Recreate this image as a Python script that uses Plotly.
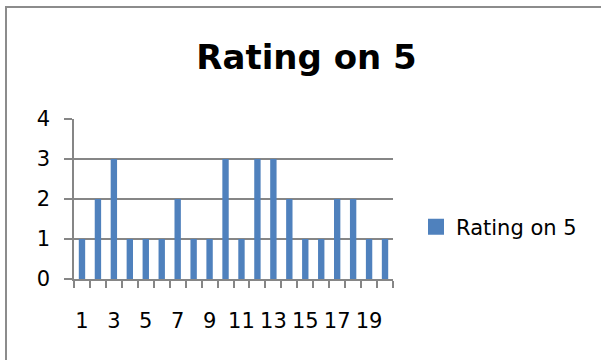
import plotly.graph_objects as go

# Respondent numbers and their rating (out of 5)
respondents = list(range(1, 21))
ratings = [1, 2, 3, 1, 1, 1, 2, 1, 1, 3, 1, 3, 3, 2, 1, 1, 2, 2, 1, 1]

x_tick_vals = [1, 3, 5, 7, 9, 11, 13, 15, 17, 19]
x_tick_text = [str(v) for v in x_tick_vals]
y_tick_vals = [0, 1, 2, 3, 4]

series_name = "Rating on 5"
bar_color = "#4F81BD"
grid_color = "#868686"
font_family = "DejaVu Sans"

W, H = 601, 360
L, R, T, B = 74, 208, 119, 81
plot_w = W - L - R
plot_h = H - T - B


def px_x(px):
    return (px - L) / plot_w


def px_y(py):
    return (H - B - py) / plot_h


fig = go.Figure()
fig.add_trace(go.Bar(
    x=respondents,
    y=ratings,
    name=series_name,
    marker=dict(color=bar_color, line=dict(width=0)),
    showlegend=False,
    legendgroup="rating",
))
# legend key: a larger square swatch for the series
fig.add_trace(go.Scatter(
    x=[None],
    y=[None],
    mode="markers",
    name=series_name,
    marker=dict(symbol="square", size=16, color=bar_color, line=dict(width=0)),
    legendgroup="rating",
    showlegend=True,
))

fig.update_layout(
    width=W,
    height=H,
    margin=dict(l=L, r=R, t=T, b=B),
    paper_bgcolor="white",
    plot_bgcolor="white",
    bargap=0.6,
    font=dict(family=font_family, size=21, color="#000000"),
    title=dict(
        text="<b>" + series_name + "</b>",
        font=dict(family=font_family, size=34, color="#000000"),
        xref="paper",
        x=px_x(306.5),
        xanchor="center",
        yref="container",
        y=1 - 57 / H,
        yanchor="middle",
    ),
    legend=dict(
        x=px_x(416),
        y=px_y(227),
        xanchor="left",
        yanchor="middle",
        font=dict(family=font_family, size=21, color="#000000"),
        bgcolor="rgba(0,0,0,0)",
        itemsizing="trace",
    ),
    xaxis=dict(
        range=[0.5, 20.5],
        tickmode="array",
        tickvals=x_tick_vals,
        ticktext=x_tick_text,
        ticks="",
        ticklabelstandoff=22,
        showgrid=False,
        zeroline=False,
        showline=True,
        linecolor=grid_color,
        linewidth=1.5,
        minor=dict(
            ticks="outside",
            ticklen=7,
            tickwidth=1.5,
            tickcolor=grid_color,
            tick0=0.5,
            dtick=1,
            showgrid=False,
        ),
    ),
    yaxis=dict(
        range=[0, 4],
        tickmode="array",
        tickvals=y_tick_vals,
        ticks="outside",
        ticklen=8,
        tickwidth=1.5,
        tickcolor=grid_color,
        ticklabelstandoff=10,
        showgrid=True,
        gridcolor=grid_color,
        gridwidth=1.5,
        zeroline=False,
        showline=True,
        linecolor=grid_color,
        linewidth=1.5,
    ),
    shapes=[
        # chart-area frame (right and bottom edges run past the page)
        dict(
            type="rect",
            xref="paper",
            yref="paper",
            x0=px_x(6),
            x1=px_x(612),
            y0=px_y(372),
            y1=px_y(7),
            line=dict(color="#8C8C8C", width=2),
            fillcolor="rgba(0,0,0,0)",
            layer="below",
        )
    ],
)

fig.write_html("out.html")
